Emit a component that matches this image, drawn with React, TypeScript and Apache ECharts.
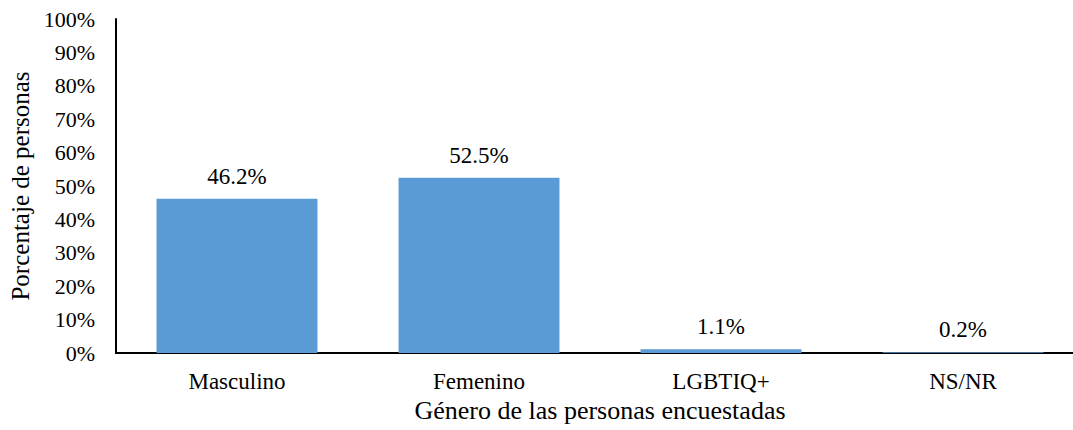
import React, { useEffect, useRef } from "react";
import * as echarts from "echarts";

const categories = ["Masculino", "Femenino", "LGBTIQ+", "NS/NR"];
const values = [46.2, 52.5, 1.1, 0.2];
const yTicks = [0, 10, 20, 30, 40, 50, 60, 70, 80, 90, 100];
const xTitle = "Género de las personas encuestadas";
const yTitle = "Porcentaje de personas";

const FONT = "Times New Roman, Liberation Serif, serif";

export default function App() {
  const ref = useRef<HTMLDivElement>(null);
  useEffect(() => {
    if (!ref.current) return;
    const chart = echarts.init(ref.current, null, { renderer: "svg" });
    chart.setOption({
      animation: false,
      textStyle: { fontFamily: FONT, color: "#000" },
      grid: { left: 116, right: -11, top: 19, bottom: 77, containLabel: false, outerBoundsMode: "none" },
      xAxis: {
        type: "category",
        data: categories,
        name: xTitle,
        nameLocation: "middle",
        nameGap: 44,
        nameTextStyle: { fontFamily: FONT, fontSize: 26, color: "#000" },
        axisLine: { lineStyle: { color: "#000", width: 2 } },
        axisTick: { show: false },
        axisLabel: { fontFamily: FONT, fontSize: 23, color: "#000", margin: 17 },
      },
      yAxis: {
        type: "value",
        min: yTicks[0],
        max: yTicks[yTicks.length - 1],
        interval: 10,
        name: yTitle,
        nameLocation: "middle",
        nameGap: 80,
        nameTextStyle: { fontFamily: FONT, fontSize: 25, color: "#000" },
        axisLine: { show: true, lineStyle: { color: "#000", width: 2 } },
        axisTick: { show: false },
        splitLine: { show: false },
        axisLabel: {
          fontFamily: FONT,
          fontSize: 22,
          color: "#000",
          margin: 21,
          formatter: (v: number) => `${v}%`,
        },
      },
      series: [
        {
          type: "bar",
          data: values,
          barWidth: "66.5%",
          itemStyle: { color: "#5B9BD5" },
          label: {
            show: true,
            position: "top",
            distance: 11,
            fontFamily: FONT,
            fontSize: 23,
            color: "#000",
            formatter: (p: any) => `${p.value.toFixed(1)}%`,
          },
        },
      ],
    });
    return () => chart.dispose();
  }, []);
  return (
    <div
      ref={ref}
      style={{ position: "fixed", left: 0, top: 0, width: 1073, height: 430, background: "#fff" }}
    />
  );
}
